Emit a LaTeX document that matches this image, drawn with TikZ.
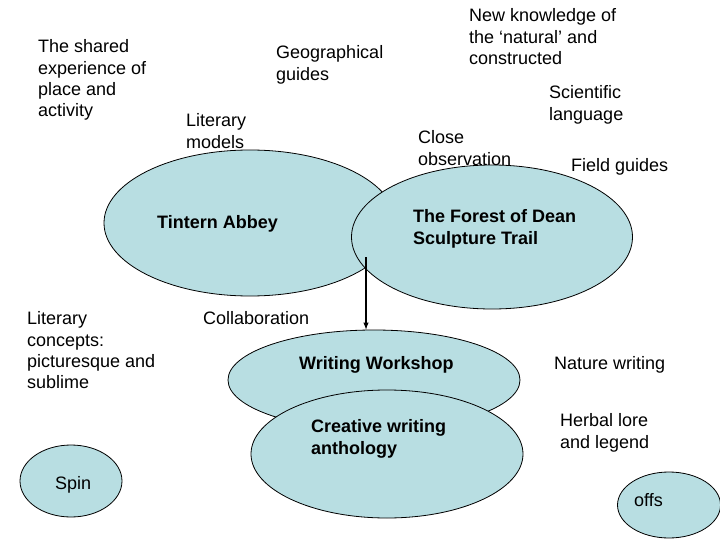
\documentclass[tikz,border=0pt]{standalone}
\usepackage{fontspec}
\setmainfont{Liberation Sans}
\usepackage{xcolor}
\usetikzlibrary{shapes.geometric}
\definecolor{paleblue}{RGB}{184,222,226}

\tikzset{
  blob/.style={ellipse, draw=black, fill=paleblue, line width=0.8pt, inner sep=0pt},
  words/.style={anchor=north west, inner sep=0pt, align=left, yshift=-1.5pt,
    font=\fontsize{18}{21.4}\selectfont},
  boldwords/.style={words, font=\fontsize{18}{21.4}\selectfont\bfseries}
}

\begin{document}
\begin{tikzpicture}[x=1pt, y=-1pt]
  \useasboundingbox (0,0) rectangle (720,540);

  % the ellipses, back to front
  \node[blob, minimum width=292, minimum height=146] (tintern) at (250,223) {};
  \node[blob, minimum width=281, minimum height=144] (forest) at (492,237) {};
  \node[blob, minimum width=292, minimum height=100] (workshop) at (374,380) {};
  \node[blob, minimum width=272, minimum height=128] (anthology) at (387,454) {};
  \node[blob, minimum width=102, minimum height=72] (spin) at (71,481) {};
  \node[blob, minimum width=103, minimum height=66] (offs) at (669,505) {};

  % arrow from the trail down to the workshop
  \coordinate (trail) at (366,257);
  \draw[line width=1.4pt, -latex] (trail) -- (trail |- workshop.north);

  % texts
  \node[words] (shared) at (38,38) {The shared\\experience of\\place and\\activity};
  \node[words] (geo) at (276,44) {Geographical\\guides};
  \node[words] (newknow) at (469,7) {New knowledge of\\the ‘natural’ and\\constructed};
  \node[words] (sci) at (549,84) {Scientific\\language};
  \node[words] (litmodels) at (186,112) {Literary\\models};
  \node[words] (close) at (418,129) {Close\\observation};
  \node[words] (field) at (571,157) {Field guides};
  \node[boldwords] (tinterntxt) at (157,214) {Tintern Abbey};
  \node[boldwords] (foresttxt) at (413,208) {The Forest of Dean\\Sculpture Trail};
  \node[words] (concepts) at (27,310) {Literary\\concepts:\\picturesque and\\sublime};
  \node[words] (collab) at (203,310) {Collaboration};
  \node[boldwords] (workshoptxt) at (299,355) {Writing Workshop};
  \node[words] (nature) at (554,355) {Nature writing};
  \node[boldwords] (anthologytxt) at (311,418) {Creative writing\\anthology};
  \node[words] (herbal) at (560,412) {Herbal lore\\and legend};
  \node[words] (spintxt) at (55,475) {Spin};
  \node[words] (offstxt) at (634,492) {offs};
\end{tikzpicture}
\end{document}
